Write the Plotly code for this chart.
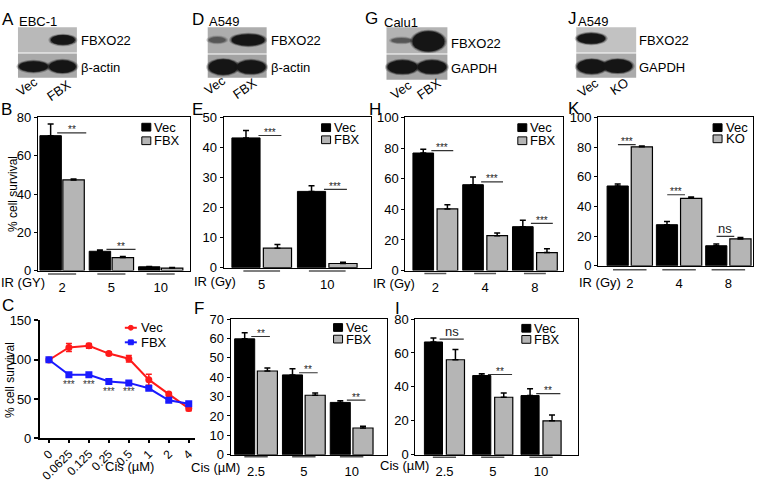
import plotly.graph_objects as go

W, H = 762, 486
FONT = "Liberation Sans, Arial, sans-serif"


def px(x):
    return x / W


def py(y):
    return 1 - y / H


# ---------------- data ----------------
# B: EBC-1, IR
b_cats = ["2", "5", "10"]
b_vec = [70.5, 10.1, 2.0]
b_vec_err = [6.1, 0.6, 0.2]
b_fbx = [47.4, 6.8, 1.3]
b_fbx_err = [0.4, 0.6, 0.3]
b_sig = ["**", "**", ""]
b_sig_y = [72.0, 11.1, None]

# E: A549, IR
e_cats = ["5", "10"]
e_vec = [43.2, 25.4]
e_vec_err = [2.5, 1.9]
e_fbx = [6.5, 1.4]
e_fbx_err = [1.2, 0.4]
e_sig = ["***", "***"]
e_sig_y = [44.0, 26.1]

# H: Calu1, IR
h_cats = ["2", "4", "8"]
h_vec = [76.8, 56.1, 28.7]
h_vec_err = [2.5, 5.1, 4.2]
h_fbx = [40.3, 22.8, 11.8]
h_fbx_err = [2.7, 1.7, 2.5]
h_sig = ["***", "***", "***"]
h_sig_y = [78.3, 58.0, 30.8]

# K: A549 KO, IR
k_cats = ["2", "4", "8"]
k_vec = [53.8, 27.7, 13.5]
k_vec_err = [1.3, 2.2, 1.1]
k_ko = [80.2, 45.5, 18.1]
k_ko_err = [0.6, 0.9, 0.9]
k_sig = ["***", "***", "ns"]
k_sig_y = [81.7, 47.9, 19.8]

# C: EBC-1, cisplatin dose response
c_doses = ["0", "0.0625", "0.125", "0.25", "0.5", "1", "2", "4"]
c_vec = [99.6, 115.6, 117.7, 107.8, 101.2, 74.6, 56.2, 38.0]
c_vec_err = [2.0, 5.0, 3.0, 2.0, 4.0, 7.0, 2.0, 3.0]
c_fbx = [100.0, 80.8, 80.8, 72.2, 70.5, 63.6, 48.4, 43.9]
c_fbx_err = [1.5, 1.5, 1.5, 3.0, 2.0, 2.0, 2.0, 2.0]
c_sig_doses = ["0.0625", "0.125", "0.25", "0.5"]
c_sig_y = [68.5, 68.5, 59.5, 59.5]

# F: A549, cisplatin
f_cats = ["2.5", "5", "10"]
f_vec = [59.8, 41.2, 27.0]
f_vec_err = [3.2, 3.1, 0.8]
f_fbx = [43.2, 30.7, 13.8]
f_fbx_err = [1.6, 1.1, 0.9]
f_sig = ["**", "**", "**"]
f_sig_y = [61.0, 42.3, 28.2]

# I: Calu1, cisplatin
i_cats = ["2.5", "5", "10"]
i_vec = [66.5, 46.7, 34.9]
i_vec_err = [2.3, 1.1, 4.0]
i_fbx = [56.0, 33.9, 20.0]
i_fbx_err = [6.1, 2.5, 3.4]
i_sig = ["ns", "**", "**"]
i_sig_y = [68.2, 47.3, 36.0]

fig = go.Figure()
shapes = []
annotations = []


def text(x, y, s, size=13, xanchor="center", yanchor="middle", angle=0, color="black"):
    annotations.append(dict(
        x=px(x), y=py(y), xref="paper", yref="paper", text=s, showarrow=False,
        xanchor=xanchor, yanchor=yanchor, textangle=angle,
        font=dict(family=FONT, size=size, color=color)))


def bar_panel(n, box, cats, vec, vec_err, oth, oth_err, oth_name, xr, yr, dtick,
              w, g, sig, sig_y, span, ul_half, ul_y, xlabel, xlabel_pos, leg):
    x0, x1, yt, yb = box
    xa = "x" if n == 1 else f"x{n}"
    ya = "y" if n == 1 else f"y{n}"
    zeros = [0] * len(cats)
    fig.add_trace(go.Bar(
        x=cats, y=vec, width=w, offset=-w - g / 2, name="Vec", showlegend=False,
        marker=dict(color="black", line=dict(color="black", width=1)),
        error_y=dict(type="data", array=vec_err, arrayminus=zeros, symmetric=False,
                     color="black", thickness=1.5, width=3),
        xaxis=xa, yaxis=ya))
    fig.add_trace(go.Bar(
        x=cats, y=oth, width=w, offset=g / 2, name=oth_name, showlegend=False,
        marker=dict(color="#b5b5b5", line=dict(color="black", width=1.2)),
        error_y=dict(type="data", array=oth_err, arrayminus=zeros, symmetric=False,
                     color="black", thickness=1.5, width=3),
        xaxis=xa, yaxis=ya))
    axis_font = dict(family=FONT, size=13, color="black")
    fig.layout["xaxis" if n == 1 else f"xaxis{n}"] = dict(
        domain=[px(x0), px(x1)], anchor=ya, type="category",
        categoryorder="array", categoryarray=cats, range=xr,
        showline=True, linecolor="black", linewidth=1.3, mirror=True,
        showgrid=False, zeroline=False, ticks="", tickfont=axis_font,
        ticklabelstandoff=5, fixedrange=True)
    fig.layout["yaxis" if n == 1 else f"yaxis{n}"] = dict(
        domain=[py(yb), py(yt)], anchor=xa, range=yr, dtick=dtick,
        showline=True, linecolor="black", linewidth=1.3, mirror=True,
        showgrid=False, zeroline=False, ticks="outside", ticklen=3, tickwidth=1,
        tickcolor="black", tickfont=axis_font, ticklabelstandoff=0, fixedrange=True)
    for i, (s, sy) in enumerate(zip(sig, sig_y)):
        if not s:
            continue
        shapes.append(dict(type="line", xref=xa, yref=ya, x0=i + span[0], x1=i + span[1],
                           y0=sy, y1=sy, line=dict(color="#333", width=1.2)))
        if s == "ns":
            annotations.append(dict(x=i + (span[0] + span[1]) / 2, y=sy, xref=xa, yref=ya,
                                    text=s, showarrow=False, yanchor="bottom", yshift=-2,
                                    font=dict(family=FONT, size=13, color="#222")))
        else:
            annotations.append(dict(x=i + (span[0] + span[1]) / 2, y=sy, xref=xa, yref=ya,
                                    text=s, showarrow=False, yanchor="middle", yshift=3,
                                    font=dict(family=FONT, size=10, color="#222")))
    for i in range(len(cats)):
        shapes.append(dict(type="line", xref=xa, yref="paper", x0=i - ul_half, x1=i + ul_half,
                           y0=py(ul_y), y1=py(ul_y), line=dict(color="#555", width=1.5)))
    text(xlabel_pos[0], xlabel_pos[1], xlabel, xanchor="right")
    lx, ly1, ly2 = leg
    shapes.append(dict(type="rect", xref="paper", yref="paper", x0=px(lx), x1=px(lx + 9),
                       y0=py(ly1 + 4), y1=py(ly1 - 4), fillcolor="black",
                       line=dict(color="black", width=1)))
    shapes.append(dict(type="rect", xref="paper", yref="paper", x0=px(lx), x1=px(lx + 9),
                       y0=py(ly2 + 4), y1=py(ly2 - 4), fillcolor="#b5b5b5",
                       line=dict(color="black", width=1)))
    text(lx + 10.5, ly1, "Vec", xanchor="left")
    text(lx + 10.5, ly2, oth_name, xanchor="left")


bar_panel(1, (38, 190, 114, 272), b_cats, b_vec, b_vec_err, b_fbx, b_fbx_err, "FBX",
          [-0.49, 2.59], [0, 80], 20, 0.435, 0.03, b_sig, b_sig_y, (-0.1, 0.49),
          0.285, 275.5, "IR (GY)", (47, 284.5), (142, 124, 138))
bar_panel(2, (224, 371, 114, 269), e_cats, e_vec, e_vec_err, e_fbx, e_fbx_err, "FBX",
          [-0.58, 1.66], [0, 50], 10, 0.43, 0.05, e_sig, e_sig_y, (-0.05, 0.3),
          0.28, 272.5, "IR (Gy)", (238, 283.5), (322, 124.5, 137))
bar_panel(3, (406, 564, 114, 272), h_cats, h_vec, h_vec_err, h_fbx, h_fbx_err, "FBX",
          [-0.6, 2.57], [0, 100], 20, 0.415, 0.07, h_sig, h_sig_y, (-0.08, 0.36),
          0.22, 275, "IR (Gy)", (418, 285), (518.5, 124.5, 138))
bar_panel(4, (599, 754, 114, 267), k_cats, k_vec, k_vec_err, k_ko, k_ko_err, "KO",
          [-0.64, 2.5], [0, 100], 20, 0.43, 0.06, k_sig, k_sig_y, (-0.24, 0.12),
          0.34, 271, "IR (Gy)", (624, 284), (714, 124.5, 136))
bar_panel(6, (231, 388, 322, 462), f_cats, f_vec, f_vec_err, f_fbx, f_fbx_err, "FBX",
          [-0.53, 2.75], [0, 70], 10, 0.42, 0.055, f_sig, f_sig_y, (-0.1, 0.29),
          0.245, 464, "Cis (\u00b5M)", (242, 475), (334, 330.7, 342.7))
bar_panel(7, (416, 579, 322, 462), i_cats, i_vec, i_vec_err, i_fbx, i_fbx_err, "FBX",
          [-0.6, 2.77], [0, 80], 20, 0.375, 0.08, i_sig, i_sig_y, (-0.1, 0.4),
          0.24, 464.5, "Cis (\u00b5M)", (432, 473.5), (522.5, 331.5, 343))

# ---------------- panel C (line chart) ----------------
fig.add_trace(go.Scatter(
    x=c_doses, y=c_vec, mode="lines+markers", name="Vec", showlegend=False,
    line=dict(color="#ff1a1a", width=2), marker=dict(symbol="circle", size=7, color="#ff1a1a"),
    error_y=dict(type="data", array=c_vec_err, color="#ff1a1a", thickness=1.5, width=3),
    xaxis="x5", yaxis="y5"))
fig.add_trace(go.Scatter(
    x=c_doses, y=c_fbx, mode="lines+markers", name="FBX", showlegend=False,
    line=dict(color="#1a1aff", width=2), marker=dict(symbol="square", size=7, color="#1a1aff"),
    error_y=dict(type="data", array=c_fbx_err, color="#1a1aff", thickness=1.5, width=3),
    xaxis="x5", yaxis="y5"))
for d, sy in zip(c_sig_doses, c_sig_y):
    annotations.append(dict(x=c_doses.index(d), y=sy, xref="x5", yref="y5", text="***",
                            showarrow=False, yanchor="middle",
                            font=dict(family=FONT, size=10, color="#333")))
fig.layout["xaxis5"] = dict(
    domain=[px(40), px(195)], anchor="y5", type="category", categoryorder="array",
    categoryarray=c_doses, range=[-0.45, 7.3], showline=True, linecolor="black",
    linewidth=2, showgrid=False, zeroline=False, ticks="outside", ticklen=3, tickwidth=1.5,
    tickcolor="black", tickangle=-45, tickfont=dict(family=FONT, size=12, color="black"),
    ticklabelstandoff=-1, fixedrange=True)
fig.layout["yaxis5"] = dict(
    domain=[py(445), py(323)], anchor="x5", range=[0, 150.5], tickvals=[0, 50, 100, 150],
    showline=True, linecolor="black", linewidth=2, showgrid=False, zeroline=False,
    ticks="outside", ticklen=4, tickwidth=1.5, tickcolor="black",
    tickfont=dict(family=FONT, size=13, color="black"), ticklabelstandoff=0,
    fixedrange=True)
text(130, 474, "Cis (\u00b5M)")
# C legend
for yy, col, sym, lab in [(331, "#ff1a1a", "circle", "Vec"), (346, "#1a1aff", "square", "FBX")]:
    shapes.append(dict(type="line", xref="paper", yref="paper", x0=px(125), x1=px(137),
                       y0=py(yy), y1=py(yy), line=dict(color=col, width=2)))
    if sym == "circle":
        shapes.append(dict(type="circle", xref="paper", yref="paper", x0=px(128.5), x1=px(133.5),
                           y0=py(yy + 2.5), y1=py(yy - 2.5), fillcolor=col, line=dict(color=col, width=1)))
    else:
        shapes.append(dict(type="rect", xref="paper", yref="paper", x0=px(128.5), x1=px(133.5),
                           y0=py(yy + 2.5), y1=py(yy - 2.5), fillcolor=col, line=dict(color=col, width=1)))
    text(139, yy, lab, xanchor="left")

# y-axis titles
text(13, 193, "% cell survival", size=12, angle=-90)
text(10, 385, "% cell survival", size=12, angle=-90)

# panel letters
for lab, (x, y) in {"A": (8, 13), "D": (198, 13), "G": (372, 12), "J": (573, 12),
                    "B": (7, 106), "E": (198, 106), "H": (375, 106), "K": (575, 105),
                    "C": (8, 308), "F": (199, 311), "I": (398, 311)}.items():
    text(x, y, lab, size=17)

# ---------------- western blots (drawn) ----------------


def rect(x0, y0, x1, y1, fill):
    shapes.append(dict(type="rect", xref="paper", yref="paper", x0=px(x0), x1=px(x1),
                       y0=py(y1), y1=py(y0), fillcolor=fill, line=dict(width=0), layer="below"))


def band(x0, y0, x1, y1, color="#151515"):
    for grow, op in [(2.5, 0.25), (1.2, 0.5), (0, 1.0)]:
        shapes.append(dict(type="circle", xref="paper", yref="paper",
                           x0=px(x0 - grow), x1=px(x1 + grow), y0=py(y1 + grow * 0.6),
                           y1=py(y0 - grow * 0.6), fillcolor=color, opacity=op,
                           line=dict(width=0)))


# A
rect(18, 21, 77, 47, "#b9b9b9"); rect(18, 48, 77, 73, "#a9a9a9")
band(51, 29, 75, 39)
band(19, 56, 48, 67); band(49, 55, 76, 68)
text(79, 35, "FBXO22", xanchor="left"); text(79, 62, "\u03b2-actin", xanchor="left")
text(38, 15, "EBC-1"); text(27, 82, "Vec", angle=-35); text(59, 86, "FBX", angle=-35)
# D
rect(208, 21, 267, 48, "#adadad"); rect(208, 49, 267, 73, "#a3a3a3")
band(209, 31, 226, 37, "#555555"); band(232, 28, 265, 40)
band(209, 54, 238, 70); band(237, 55, 266, 69)
text(269, 35, "FBXO22", xanchor="left"); text(269, 62, "\u03b2-actin", xanchor="left")
text(224, 15, "A549"); text(215, 81, "Vec", angle=-35); text(245, 84, "FBX", angle=-35)
# G
rect(387, 21, 448, 48, "#b3b3b3"); rect(387, 49, 448, 75, "#a5a5a5")
band(392, 32, 412, 37, "#555555"); band(413, 25, 445, 46)
band(388, 55, 418, 69); band(418, 55, 447, 69)
text(450, 38, "FBXO22", xanchor="left"); text(450, 63, "GAPDH", xanchor="left")
text(402, 16, "Calu1"); text(402, 85, "Vec", angle=-35); text(430, 84, "FBX", angle=-35)
# J
rect(577, 21, 637, 47, "#c2c2c2"); rect(577, 48, 637, 73, "#ababab")
band(578, 27, 606, 38)
band(578, 54, 607, 69); band(604, 54, 633, 68)
text(638, 35, "FBXO22", xanchor="left"); text(638, 62, "GAPDH", xanchor="left")
text(594, 15, "A549"); text(589, 83, "Vec", angle=-35); text(620, 82, "KO", angle=-35)

fig.update_layout(
    width=W, height=H, margin=dict(l=0, r=0, t=0, b=0),
    paper_bgcolor="white", plot_bgcolor="white", barmode="overlay",
    showlegend=False, shapes=shapes, annotations=annotations,
    font=dict(family=FONT, size=13, color="black"))

fig.write_html("out.html", config={"displayModeBar": False},
               post_script="document.body.style.margin='0';document.body.style.padding='0';")
